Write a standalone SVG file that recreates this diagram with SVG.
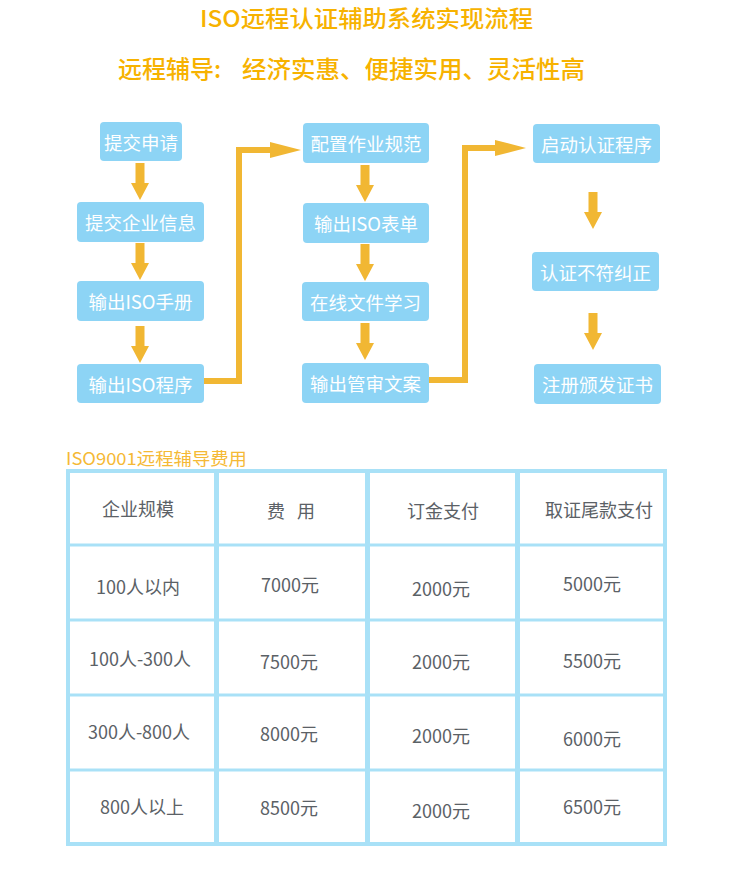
<svg xmlns="http://www.w3.org/2000/svg" xmlns:xlink="http://www.w3.org/1999/xlink" width="737" height="879" viewBox="0 0 737 879">
<style>
.title{font-family:"Noto Sans CJK SC","Noto Sans",sans-serif;fill:#f7b200;font-weight:500}
.box{fill:#8dd4f5}
.bt{font-family:"Noto Sans CJK SC","Noto Sans",sans-serif;font-size:18.5px;fill:#ffffff;text-anchor:middle;dominant-baseline:central}
.arr{fill:#f1b733}
.conn{fill:none;stroke:#f1b733;stroke-width:6}
.tl{stroke:#a9e1f7;fill:none}
.tt{font-family:"Noto Sans CJK SC","Noto Sans",sans-serif;font-size:18px;fill:#5b6166;text-anchor:middle;dominant-baseline:central}
.cap{font-family:"Noto Sans CJK SC","Noto Sans",sans-serif;font-size:17px;fill:#f5b935}
</style>
<defs>
<path id="down" d="M-4.5,0 H4.5 V20 H9 L0,37 L-9,20 H-4.5 Z"/>
</defs>
<rect width="737" height="879" fill="#ffffff"/>
<g id="title">
<text class="title" x="200" y="27" font-size="23" textLength="333" lengthAdjust="spacingAndGlyphs">ISO远程认证辅助系统实现流程</text>
<text class="title" x="118" y="78" font-size="24">远程辅导:</text>
<text class="title" x="242" y="78" font-size="24" textLength="343" lengthAdjust="spacingAndGlyphs">经济实惠、便捷实用、灵活性高</text>
</g>
<g id="n1"><rect class="box" x="100" y="122" width="82" height="39" rx="4"/><text class="bt" x="141" y="141.5">提交申请</text></g>
<g id="n2"><rect class="box" x="77" y="202" width="127" height="40" rx="4"/><text class="bt" x="140.5" y="222">提交企业信息</text></g>
<g id="n3"><rect class="box" x="77" y="281" width="127" height="40" rx="4"/><text class="bt" x="140.5" y="301">输出ISO手册</text></g>
<g id="n4"><rect class="box" x="77" y="364" width="127" height="39" rx="4"/><text class="bt" x="140.5" y="383.5">输出ISO程序</text></g>
<g id="n5"><rect class="box" x="303" y="123" width="126" height="40" rx="4"/><text class="bt" x="366" y="143">配置作业规范</text></g>
<g id="n6"><rect class="box" x="303" y="203" width="126" height="40" rx="4"/><text class="bt" x="366" y="223">输出ISO表单</text></g>
<g id="n7"><rect class="box" x="302" y="282" width="127" height="39" rx="4"/><text class="bt" x="365.5" y="301.5">在线文件学习</text></g>
<g id="n8"><rect class="box" x="302" y="363" width="127" height="40" rx="4"/><text class="bt" x="365.5" y="383">输出管审文案</text></g>
<g id="n9"><rect class="box" x="533" y="124" width="127" height="39" rx="4"/><text class="bt" x="596.5" y="143.5">启动认证程序</text></g>
<g id="n10"><rect class="box" x="532" y="252" width="127" height="39" rx="4"/><text class="bt" x="595.5" y="271.5">认证不符纠正</text></g>
<g id="n11"><rect class="box" x="534" y="364" width="127" height="40" rx="4"/><text class="bt" x="597.5" y="384">注册颁发证书</text></g>
<g id="connectors">
<use href="#down" class="arr" x="140" y="163"/>
<use href="#down" class="arr" x="140" y="243"/>
<use href="#down" class="arr" x="140" y="326"/>
<use href="#down" class="arr" x="365" y="165"/>
<use href="#down" class="arr" x="365" y="244"/>
<use href="#down" class="arr" x="365" y="323"/>
<use href="#down" class="arr" x="593" y="192"/>
<use href="#down" class="arr" x="593" y="313"/>
<path class="conn" d="M204,381 H239 V150 H272"/>
<polygon class="arr" points="270,142 301,150 270,158"/>
<path class="conn" d="M429,380 H465 V148 H497"/>
<polygon class="arr" points="495,140 526,148 495,156"/>
</g>
<g id="table">
<text class="cap" x="66" y="465" textLength="181" lengthAdjust="spacingAndGlyphs">ISO9001远程辅导费用</text>
<rect class="tl" x="68" y="471" width="597" height="373" stroke-width="4"/>
<line class="tl" x1="216.5" y1="471" x2="216.5" y2="844" stroke-width="5"/>
<line class="tl" x1="367.5" y1="471" x2="367.5" y2="844" stroke-width="5"/>
<line class="tl" x1="517.5" y1="471" x2="517.5" y2="844" stroke-width="5"/>
<line class="tl" x1="68" y1="545" x2="665" y2="545" stroke-width="3"/>
<line class="tl" x1="68" y1="620" x2="665" y2="620" stroke-width="3"/>
<line class="tl" x1="68" y1="695" x2="665" y2="695" stroke-width="3"/>
<line class="tl" x1="68" y1="770" x2="665" y2="770" stroke-width="3"/>
<text class="tt" x="138" y="508">企业规模</text>
<text class="tt" x="291" y="510" xml:space="preserve">费   用</text>
<text class="tt" x="443" y="510">订金支付</text>
<text class="tt" x="599" y="509">取证尾款支付</text>
<text class="tt" x="138" y="586">100人以内</text>
<text class="tt" x="290" y="584">7000元</text>
<text class="tt" x="441" y="588">2000元</text>
<text class="tt" x="592" y="583">5000元</text>
<text class="tt" x="140" y="658">100人-300人</text>
<text class="tt" x="289" y="661">7500元</text>
<text class="tt" x="441" y="661">2000元</text>
<text class="tt" x="592" y="660">5500元</text>
<text class="tt" x="139" y="731">300人-800人</text>
<text class="tt" x="289" y="733">8000元</text>
<text class="tt" x="441" y="735">2000元</text>
<text class="tt" x="592" y="738">6000元</text>
<text class="tt" x="142" y="806">800人以上</text>
<text class="tt" x="289" y="807">8500元</text>
<text class="tt" x="441" y="810">2000元</text>
<text class="tt" x="592" y="806">6500元</text>
</g>
</svg>
